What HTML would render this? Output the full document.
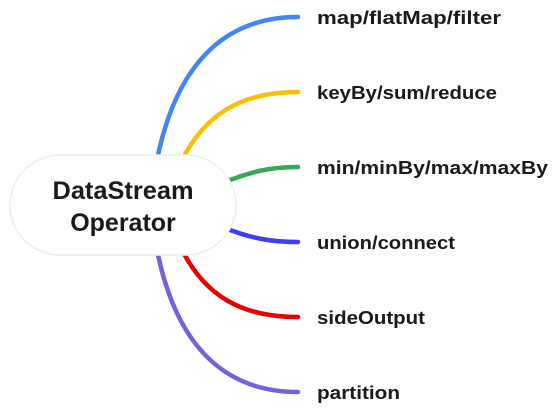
<!DOCTYPE html>
<html><head><style>
body{margin:0;width:555px;height:408px;background:#fff;overflow:hidden;font-family:"Liberation Sans",sans-serif}
</style></head><body>
<svg width="555" height="408" xmlns="http://www.w3.org/2000/svg">
<g fill="none" stroke-width="4.5" stroke-linecap="round">
<path d="M157,160 C175,70 220,17 298,17" stroke="#4285f4"/>
<path d="M182,160 C205,115 240,92 298,92" stroke="#f9c000"/>
<path d="M225,182 C250,172 270,167 298,167" stroke="#34a853"/>
<path d="M225,228 C250,238 270,242 298,242" stroke="#3e3ef5"/>
<path d="M182,250 C205,295 240,317 298,317" stroke="#e80000"/>
<path d="M157,250 C175,340 220,392 298,392" stroke="#7461e0"/>
</g>
<rect x="10" y="155" width="226" height="100" rx="50" fill="#fff" stroke="#eeeeee" stroke-width="1.5"/>
<g font-weight="bold" fill="#1a1a1a" font-family="Liberation Sans,sans-serif">
<text x="123" y="199" font-size="25" text-anchor="middle" textLength="141" lengthAdjust="spacingAndGlyphs">DataStream</text>
<text x="123" y="231" font-size="25" text-anchor="middle">Operator</text>
<g font-size="18.5">
<text x="317" y="24" textLength="184" lengthAdjust="spacingAndGlyphs">map/flatMap/filter</text>
<text x="317" y="99" textLength="180" lengthAdjust="spacingAndGlyphs">keyBy/sum/reduce</text>
<text x="317" y="174" textLength="231" lengthAdjust="spacingAndGlyphs">min/minBy/max/maxBy</text>
<text x="317" y="249" textLength="138" lengthAdjust="spacingAndGlyphs">union/connect</text>
<text x="317" y="324" textLength="108" lengthAdjust="spacingAndGlyphs">sideOutput</text>
<text x="317" y="399" textLength="83" lengthAdjust="spacingAndGlyphs">partition</text>
</g></g>
</svg>
</body></html>
